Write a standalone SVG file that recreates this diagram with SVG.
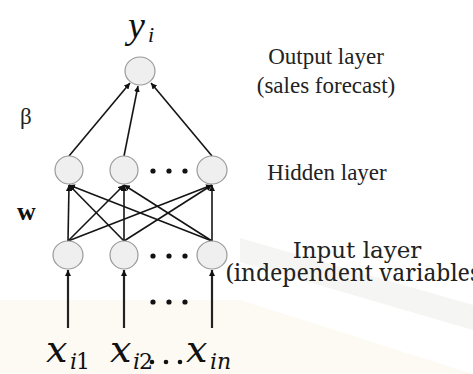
<svg xmlns="http://www.w3.org/2000/svg" width="473" height="374" viewBox="0 0 473 374">
<style>
.node{fill:#efefef;stroke:#9a9a9a;stroke-width:1.2}
.edge{stroke:#151515;stroke-width:1.6;fill:none;marker-end:url(#ah)}
.in{stroke:#222;stroke-width:2.2;fill:none;marker-end:url(#ah)}
.dot{fill:#111}
</style>
<defs>
<marker id="ah" viewBox="0 0 10 10" refX="10" refY="5" markerWidth="6" markerHeight="6" markerUnits="userSpaceOnUse" orient="auto">
<path d="M0,0 L10,5 L0,10 z" fill="#111"/>
</marker>
</defs>
<rect width="473" height="374" fill="#ffffff"/>
<g id="watermark">
<polygon points="0,300 240,300 473,374 0,374" fill="#fcfaf2"/>
<polygon points="240,238 473,305 473,330 240,262" fill="#f5f5f3"/>
</g>
<g id="connectors">
<line class="edge" x1="69" y1="156" x2="130" y2="83"/>
<line class="edge" x1="124" y1="156" x2="138" y2="86"/>
<line class="edge" x1="212" y1="156" x2="151" y2="83"/>
<line class="edge" x1="68" y1="241" x2="69" y2="185"/>
<line class="edge" x1="68" y1="241" x2="124" y2="185"/>
<line class="edge" x1="68" y1="241" x2="212" y2="185"/>
<line class="edge" x1="124" y1="241" x2="69" y2="185"/>
<line class="edge" x1="124" y1="241" x2="124" y2="185"/>
<line class="edge" x1="124" y1="241" x2="212" y2="185"/>
<line class="edge" x1="212" y1="241" x2="69" y2="185"/>
<line class="edge" x1="212" y1="241" x2="124" y2="185"/>
<line class="edge" x1="212" y1="241" x2="212" y2="185"/>
<line class="in" x1="68" y1="328" x2="68" y2="270"/>
<line class="in" x1="124" y1="328" x2="124" y2="270"/>
<line class="in" x1="212" y1="328" x2="212" y2="270"/>
</g>
<g id="output">
<ellipse class="node" cx="140" cy="71" rx="15" ry="14"/>
<text font-family="serif" font-style="italic" fill="#111" x="128" y="38" font-size="38">y</text>
<text font-family="serif" font-style="italic" fill="#111" x="148" y="42" font-size="22">i</text>
</g>
<g id="hidden1"><ellipse class="node" cx="69" cy="170" rx="14" ry="14"/></g>
<g id="hidden2"><ellipse class="node" cx="124" cy="170" rx="14" ry="14"/></g>
<g id="hidden3"><ellipse class="node" cx="212" cy="170" rx="15" ry="14"/></g>
<g id="input1"><ellipse class="node" cx="68" cy="255" rx="15" ry="14"/></g>
<g id="input2"><ellipse class="node" cx="124" cy="255" rx="14" ry="14"/></g>
<g id="input3"><ellipse class="node" cx="212" cy="255" rx="15" ry="14"/></g>
<g id="dots">
<circle class="dot" cx="153" cy="171" r="2.6"/><circle class="dot" cx="169" cy="171" r="2.6"/><circle class="dot" cx="185" cy="171" r="2.6"/>
<circle class="dot" cx="153" cy="256" r="2.6"/><circle class="dot" cx="169" cy="256" r="2.6"/><circle class="dot" cx="185" cy="256" r="2.6"/>
<circle class="dot" cx="153" cy="302" r="2.6"/><circle class="dot" cx="169" cy="302" r="2.6"/><circle class="dot" cx="185" cy="302" r="2.6"/>
<circle class="dot" cx="152" cy="362" r="2.3"/><circle class="dot" cx="166" cy="362" r="2.3"/><circle class="dot" cx="180" cy="362" r="2.3"/>
</g>
<g id="weights">
<text font-family="Times New Roman" fill="#222" x="20" y="124" font-size="23">β</text>
<text font-family="Liberation Serif" fill="#111" font-weight="bold" x="17" y="220" font-size="26">w</text>
</g>
<g id="xlabels" font-family="DejaVu Serif" fill="#111">
<text font-style="italic" x="46" y="362" font-size="38">x</text>
<text font-style="italic" x="70" y="369" font-size="22">i</text>
<text x="76" y="369" font-size="22">1</text>
<text font-style="italic" x="110" y="362" font-size="38">x</text>
<text font-style="italic" x="133" y="369" font-size="22">i</text>
<text x="139" y="369" font-size="22">2</text>
<text font-style="italic" x="186" y="362" font-size="38">x</text>
<text font-style="italic" x="210" y="369" font-size="22">in</text>
</g>
<g id="labels" font-size="23" fill="#222" text-anchor="middle">
<text font-family="Liberation Serif" x="326" y="64">Output layer</text>
<text font-family="serif" x="326" y="93">(sales forecast)</text>
<text font-family="Times New Roman" x="327" y="180">Hidden layer</text>
<text font-family="DejaVu Serif" x="357" y="258">Input layer</text>
<text font-family="Noto Serif" x="357" y="281">(independent variables)</text>
</g>
</svg>
